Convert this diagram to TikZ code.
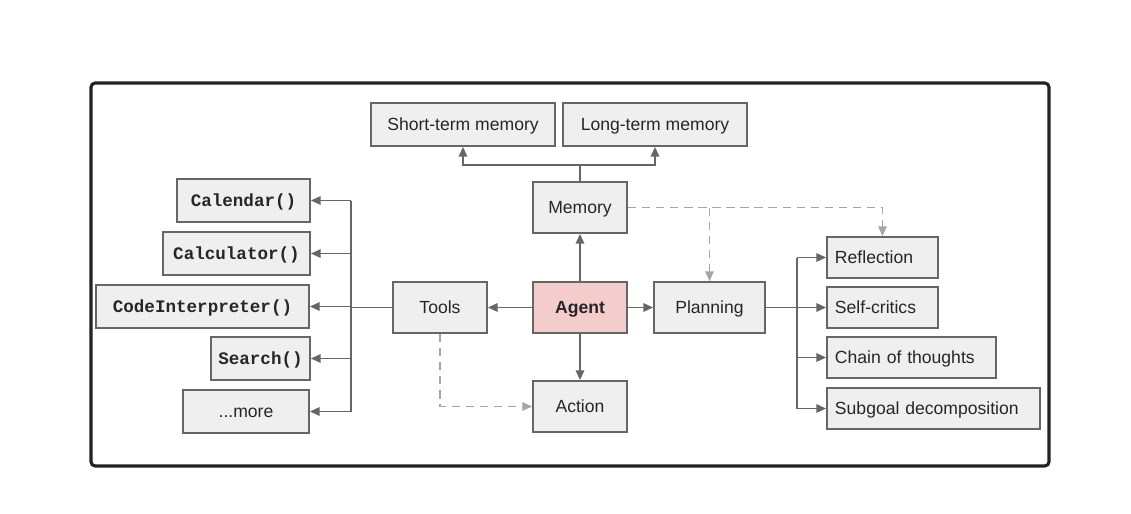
\documentclass[tikz,border=0pt]{standalone}
\usepackage{fontspec}
\setmainfont{Liberation Sans}
\setmonofont{Liberation Mono}
\usepackage{tikz}
\usetikzlibrary{positioning, arrows.meta}
\definecolor{BoxFill}{RGB}{239, 239, 239}
\definecolor{LineGray}{RGB}{102, 102, 102}
\definecolor{DashGray}{RGB}{165, 165, 165}
\definecolor{AgentPink}{RGB}{244, 204, 204}
\definecolor{FrameBlack}{RGB}{34, 34, 34}

\begin{document}
\begin{tikzpicture}[x=0.025cm, y=-0.025cm,
    box/.style={draw=LineGray, line width=1.2pt, fill=BoxFill, inner sep=0pt,
                text height=11pt, text depth=2pt,
                font=\fontsize{12.5}{14}\selectfont, text=black!85},
    codebox/.style={box, font=\fontsize{12.5}{14}\selectfont\ttfamily\bfseries},
    leftbox/.style={box, align=left, inner xsep=0.2cm, text width=#1},
    link/.style={LineGray, line width=1.4pt},
    arrow/.style={link, -{Triangle[length=7pt, width=6pt]}},
    dasharrow/.style={DashGray, line width=1.2pt, dash pattern=on 6pt off 4pt,
                      -{Triangle[length=7pt, width=6pt]}}]
    \useasboundingbox (0,0) rectangle (1131,513);

    % Frame
    \draw[FrameBlack, line width=2.2pt, rounded corners=3pt] (91,83) rectangle (1049,466);

    % Memory
    \node[box, minimum width=4.6cm, minimum height=1.075cm] (stm) at (463,124.5) {Short-term memory};
    \node[box, minimum width=4.6cm, minimum height=1.075cm] (ltm) at (655,124.5) {Long-term memory};
    \node[box, minimum width=2.35cm, minimum height=1.275cm] (memory) at (580,207.5) {Memory};

    % Agent and friends
    \node[box, fill=AgentPink, font=\fontsize{12.5}{14}\selectfont\bfseries,
          minimum width=2.35cm, minimum height=1.275cm] (agent) at (580,307.5) {Agent};
    \node[box, minimum width=2.35cm, minimum height=1.275cm] (tools) at (440,307.5) {Tools};
    \node[box, minimum width=2.775cm, minimum height=1.275cm] (planning) at (709.5,307.5) {Planning};
    \node[box, minimum width=2.35cm, minimum height=1.275cm] (action) at (580,406.5) {Action};

    % Tools
    \node[codebox, minimum width=3.325cm, minimum height=1.075cm] (calendar) at (243.5,200.5) {Calendar()};
    \node[codebox, minimum width=3.675cm, minimum height=1.075cm] (calculator) at (236.5,253.5) {Calculator()};
    \node[codebox, minimum width=5.325cm, minimum height=1.075cm] (code) at (202.5,306.5) {CodeInterpreter()};
    \node[codebox, minimum width=2.475cm, minimum height=1.075cm] (search) at (260.5,358.5) {Search()};
    \node[box, minimum width=3.15cm, minimum height=1.075cm] (more) at (246,411.5) {...more};

    % Planning
    \node[leftbox=2.375cm, minimum height=1.025cm] (reflection) at (882.5,257.5) {Reflection};
    \node[leftbox=2.375cm, minimum height=1.025cm] (critics) at (882.5,307.5) {Self-critics};
    \node[leftbox=3.825cm, minimum height=1.025cm] (chain) at (911.5,357.5) {Chain of thoughts};
    \node[leftbox=4.925cm, minimum height=1.025cm] (subgoal) at (933.5,408.5) {Subgoal decomposition};

    % Bus points
    \coordinate (membus) at (580,165);
    \coordinate (toolbus) at (351,307.5);
    \coordinate (planbus) at (797,307.5);

    % Agent arrows
    \draw[arrow] (agent) -- (memory);
    \draw[arrow] (agent) -- (tools);
    \draw[arrow] (agent) -- (planning);
    \draw[arrow] (agent) -- (action);

    % Memory branches
    \draw[link] (memory.north) -- (membus);
    \draw[arrow] (membus) -| (stm.south);
    \draw[arrow] (membus) -| (ltm.south);

    % Tool branches
    \draw[link] (tools.west) -- (toolbus);
    \draw[link] (toolbus |- calendar.east) -- (toolbus |- more.east);
    \foreach \t in {calendar, calculator, code, search, more}
        \draw[arrow] (toolbus |- \t.east) -- (\t.east);

    % Planning branches
    \draw[link] (planning.east) -- (planbus);
    \draw[link] (planbus |- reflection.west) -- (planbus |- subgoal.west);
    \foreach \p in {reflection, critics, chain, subgoal}
        \draw[arrow] (planbus |- \p.west) -- (\p.west);

    % Dashed links
    \draw[dasharrow] (memory.east) -| (reflection.north);
    \draw[dasharrow] (memory.east -| planning.north) -- (planning.north);
    \draw[dasharrow] (tools.south) |- (action.west);
\end{tikzpicture}
\end{document}
